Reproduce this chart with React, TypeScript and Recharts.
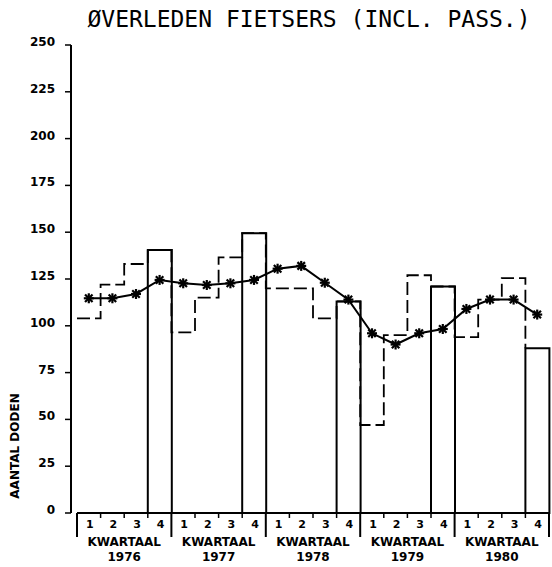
import React from 'react';
import { ComposedChart, Bar, Line, XAxis, YAxis, ReferenceLine } from 'recharts';

const TITLE = 'ØVERLEDEN FIETSERS (INCL. PASS.)';
const Y_LABEL = 'AANTAL DODEN';
const GROUP_LABEL = 'KWARTAAL';
const YEARS = ['1976', '1977', '1978', '1979', '1980'];
const QUARTER_LABELS = ['1', '2', '3', '4'];
// quarterly counts (Q1-Q3 drawn as dashed steps, Q4 drawn as bar)
const QUARTERLY = [
  104, 122, 133, 140.5,
  96.5, 115, 136.5, 149.5,
  120, 120, 104, 113,
  47, 95, 127, 121,
  94, 114, 125.5, 88,
];
// smoothed trend (asterisk line)
const TREND = [
  114.7, 114.7, 117, 124.5,
  122.7, 121.8, 122.7, 124.5,
  130.5, 132, 123, 114,
  96, 90, 96, 98.3,
  109, 114, 114, 106,
];
const Y_TICKS = [0, 25, 50, 75, 100, 125, 150, 175, 200, 225, 250];

const data = QUARTERLY.map((v, i) => ({
  q: `${YEARS[Math.floor(i / 4)]}-${QUARTER_LABELS[i % 4]}`,
  x: i,
  dash: v,
  bar: i % 4 === 3 ? v : null,
  trend: TREND[i],
}));

const N = QUARTERLY.length;
const X_TICKS: number[] = [];
for (let k = 0; k <= N * 2; k++) X_TICKS.push(k / 2);

const SMALL_FONT = 'DejaVu Sans';

const YTick = (props: any) => {
  const { x, y, payload } = props;
  return (
    <text x={x} y={y + 1} textAnchor="end" fontFamily={SMALL_FONT} fontSize={12} fontWeight="bold" fill="#000">
      {payload.value}
    </text>
  );
};

const XTick = (props: any) => {
  const { x, y, payload } = props;
  const v = payload.value as number;
  if (Number.isInteger(v)) {
    const isYear = v % 4 === 0;
    const yearIdx = Math.floor(v / 4);
    return (
      <g>
        <line x1={x} y1={y} x2={x} y2={y + (isYear ? 24 : 5)} stroke="#000" strokeWidth={isYear ? 2 : 1.5} />
        {v % 4 === 2 && yearIdx < YEARS.length ? (
          <>
            <text x={x} y={y + 33} textAnchor="middle" fontFamily={SMALL_FONT} fontSize={12} fontWeight="bold" fill="#000">
              {GROUP_LABEL}
            </text>
            <text x={x} y={y + 48} textAnchor="middle" fontFamily={SMALL_FONT} fontSize={12} fontWeight="bold" fill="#000">
              {YEARS[yearIdx]}
            </text>
          </>
        ) : null}
      </g>
    );
  }
  const qi = Math.floor(v) % 4;
  return (
    <text x={x + 1} y={y + 15} textAnchor="middle" fontFamily={SMALL_FONT} fontSize={11} fontWeight="bold" fill="#000">
      {QUARTER_LABELS[qi]}
    </text>
  );
};

const Asterisk = (props: any) => {
  const { cx, cy } = props;
  if (cx == null || cy == null) return <g />;
  const r = 5;
  const d = r * 0.75;
  return (
    <g stroke="#000" strokeWidth={2.2}>
      <line x1={cx - r} y1={cy} x2={cx + r} y2={cy} />
      <line x1={cx} y1={cy - r} x2={cx} y2={cy + r} />
      <line x1={cx - d} y1={cy - d} x2={cx + d} y2={cy + d} />
      <line x1={cx - d} y1={cy + d} x2={cx + d} y2={cy - d} />
    </g>
  );
};

const YLabel = (props: any) => {
  const vb = props.viewBox || { x: 0, y: 0, width: 0, height: 0 };
  const cx = 15;
  const cy = vb.y + vb.height - 67;
  return (
    <text
      x={cx}
      y={cy}
      transform={`rotate(-90, ${cx}, ${cy})`}
      textAnchor="middle"
      dominantBaseline="central"
      fontFamily={SMALL_FONT}
      fontSize={12}
      fontWeight="bold"
      fill="#000"
    >
      {Y_LABEL}
    </text>
  );
};

export default function App() {
  return (
    <div style={{ position: 'absolute', left: 0, top: 0, width: 552, height: 567, background: '#fff' }}>
      <div
        style={{
          position: 'absolute',
          left: 60,
          top: 8,
          width: 498,
          textAlign: 'center',
          fontFamily: 'DejaVu Sans Mono',
          fontSize: 23,
          lineHeight: '23px',
          color: '#000',
          whiteSpace: 'pre',
        }}
      >
        {TITLE}
      </div>
      <ComposedChart
        width={552}
        height={567}
        data={data}
        margin={{ top: 45, right: 3, bottom: 0, left: 0 }}
        barCategoryGap={0}
        barGap={0}
      >
        <XAxis
          xAxisId="n"
          dataKey="x"
          type="number"
          domain={[0, N]}
          ticks={X_TICKS}
          interval={0}
          padding={{ left: 6, right: 0 }}
          height={54}
          axisLine={false}
          tickLine={false}
          tickSize={0}
          tickMargin={0}
          tick={<XTick />}
        />
        <XAxis xAxisId="c" dataKey="q" type="category" hide height={0} padding={{ left: 6, right: 0 }} />
        <YAxis
          domain={[0, 250]}
          ticks={Y_TICKS}
          interval={0}
          width={71}
          axisLine={{ stroke: '#000', strokeWidth: 2 }}
          tickLine={{ stroke: '#000', strokeWidth: 1.5 }}
          tickSize={6}
          tickMargin={10}
          tick={<YTick />}
          label={<YLabel />}
        />
        <ReferenceLine
          xAxisId="n"
          segment={[{ x: 0, y: 0 }, { x: N, y: 0 }]}
          stroke="#000"
          strokeWidth={2}
        />
        <Bar xAxisId="c" dataKey="bar" fill="none" stroke="#000" strokeWidth={2} isAnimationActive={false} />
        <Line
          xAxisId="n"
          dataKey="dash"
          type="stepAfter"
          stroke="#000"
          strokeWidth={1.8}
          strokeDasharray="13 5"
          dot={false}
          activeDot={false}
          isAnimationActive={false}
        />
        <Line
          xAxisId="c"
          dataKey="trend"
          type="linear"
          stroke="#000"
          strokeWidth={2}
          dot={(p: any) => <Asterisk key={`a-${p.index}`} {...p} />}
          activeDot={false}
          isAnimationActive={false}
        />
      </ComposedChart>
    </div>
  );
}
